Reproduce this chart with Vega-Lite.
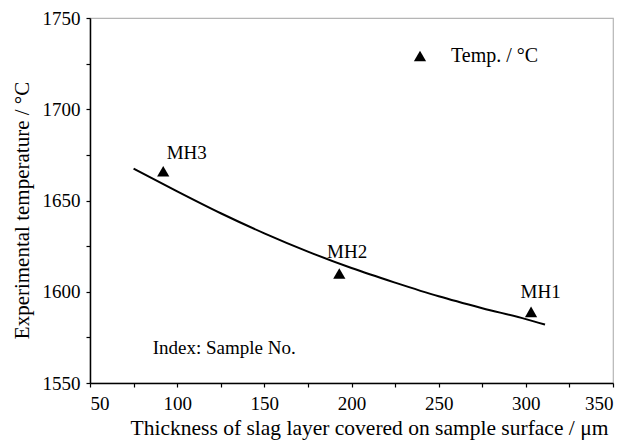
{
  "$schema": "https://vega.github.io/schema/vega-lite/v6.json",
  "width": 523,
  "height": 365,
  "autosize": {"type": "none"},
  "padding": {"left": 90, "top": 18, "right": 17, "bottom": 58},
  "background": "white",
  "config": {
    "font": "'Liberation Serif', serif",
    "view": {"stroke": "#b5b5b5", "strokeWidth": 1.2},
    "axis": {
      "labelFont": "'Liberation Serif', serif",
      "titleFont": "'Liberation Serif', serif",
      "labelFontSize": 19,
      "titleFontSize": 21,
      "titleFontWeight": "normal",
      "labelColor": "#000",
      "titleColor": "#000",
      "domainColor": "#000",
      "domainWidth": 1.5,
      "tickColor": "#000",
      "tickWidth": 1.2,
      "tickSize": 4,
      "grid": false
    },
    "legend": {"labelFont": "'Liberation Serif', serif", "labelFontSize": 20, "labelColor": "#000"}
  },
  "datasets": {
    "fit": [
      {"x": 75, "y": 1667.5},
      {"x": 100, "y": 1655},
      {"x": 125, "y": 1643},
      {"x": 150, "y": 1632},
      {"x": 175, "y": 1622},
      {"x": 200, "y": 1613},
      {"x": 225, "y": 1605},
      {"x": 250, "y": 1597.5},
      {"x": 275, "y": 1591},
      {"x": 300, "y": 1585},
      {"x": 311, "y": 1582}
    ],
    "points": [
      {"x": 92, "y": 1666, "sample": "MH3", "series": "Temp. / °C"},
      {"x": 193, "y": 1610, "sample": "MH2", "series": "Temp. / °C"},
      {"x": 303, "y": 1589, "sample": "MH1", "series": "Temp. / °C"}
    ],
    "labels": [
      {"x": 105.5, "y": 1676, "text": "MH3"},
      {"x": 197.5, "y": 1622, "text": "MH2"},
      {"x": 308.5, "y": 1600, "text": "MH1"}
    ],
    "notes": [
      {"x": 86, "y": 1569, "text": "Index: Sample No."}
    ]
  },
  "layer": [
    {
      "data": {"name": "fit"},
      "mark": {"type": "line", "interpolate": "monotone", "color": "#000", "strokeWidth": 2},
      "encoding": {
        "x": {
          "field": "x", "type": "quantitative",
          "scale": {"domain": [50, 350], "nice": false},
          "axis": {
            "title": "Thickness of slag layer covered on sample surface / μm",
            "titleFontSize": 21.5,
            "titleX": 279,
            "values": [50, 75, 100, 125, 150, 175, 200, 225, 250, 275, 300, 325, 350],
            "format": "d",
            "labelExpr": "datum.value % 50 == 0 ? datum.label : ''",
            "labelPadding": 7,
            "titlePadding": 4
          }
        },
        "y": {
          "field": "y", "type": "quantitative",
          "scale": {"domain": [1550, 1750], "nice": false, "zero": false},
          "axis": {
            "title": "Experimental temperature  / °C",
            "titleY": 192,
            "values": [1550, 1575, 1600, 1625, 1650, 1675, 1700, 1725, 1750],
            "format": "d",
            "labelExpr": "datum.value % 50 == 0 ? datum.label : ''",
            "labelPadding": 6,
            "titlePadding": 10
          }
        }
      }
    },
    {
      "data": {"name": "points"},
      "mark": {"type": "point", "filled": true, "opacity": 1, "size": 150},
      "encoding": {
        "x": {"field": "x", "type": "quantitative"},
        "y": {"field": "y", "type": "quantitative"},
        "shape": {
          "field": "series", "type": "nominal",
          "scale": {"range": ["triangle-up"]},
          "legend": {
            "title": null,
            "orient": "none",
            "legendX": 320,
            "legendY": 28,
            "symbolSize": 150,
            "symbolFillColor": "#000",
            "symbolStrokeColor": "#000",
            "labelOffset": 21
          }
        },
        "color": {"value": "#000"}
      }
    },
    {
      "data": {"name": "labels"},
      "mark": {"type": "text", "font": "'Liberation Serif', serif", "fontSize": 19, "color": "#000", "baseline": "middle", "align": "center"},
      "encoding": {
        "x": {"field": "x", "type": "quantitative"},
        "y": {"field": "y", "type": "quantitative"},
        "text": {"field": "text"}
      }
    },
    {
      "data": {"name": "notes"},
      "mark": {"type": "text", "font": "'Liberation Serif', serif", "fontSize": 19, "color": "#000", "baseline": "middle", "align": "left"},
      "encoding": {
        "x": {"field": "x", "type": "quantitative"},
        "y": {"field": "y", "type": "quantitative"},
        "text": {"field": "text"}
      }
    }
  ]
}
